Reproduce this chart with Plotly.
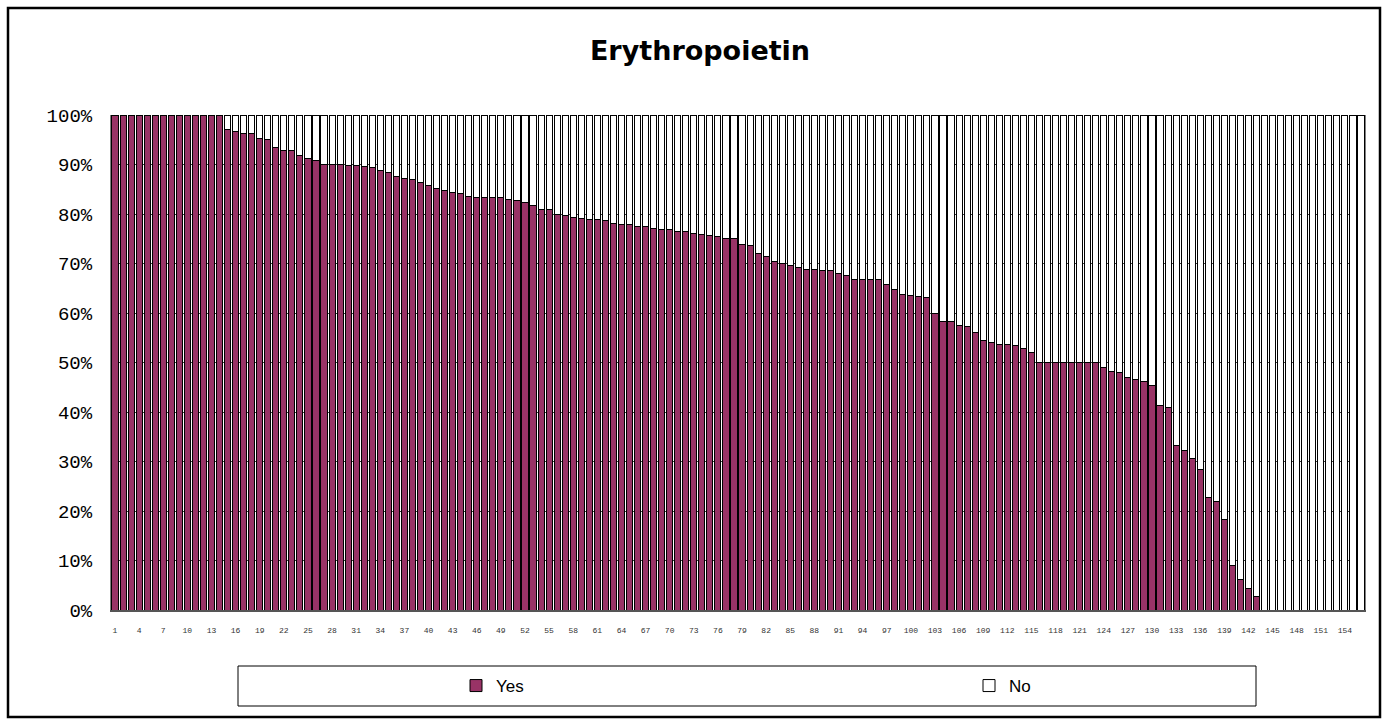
import plotly.graph_objects as go

# Share of "Yes" answers per respondent (percent), sorted descending
categories = list(range(1, 157))
yes_pct = (
    [100.0] * 14
    + [97.0, 96.6, 96.3, 96.2, 95.2, 95.1, 93.4, 92.9, 92.9, 91.8,
       91.3, 90.9, 90.1, 90.1, 90.0, 89.8, 89.7, 89.6, 89.4, 88.7,
       88.4, 87.5, 87.2, 87.0, 86.4, 85.8, 85.1, 84.8, 84.3, 84.2,
       83.6, 83.4, 83.4, 83.4, 83.4, 83.0, 82.8, 82.4, 81.7, 81.0,
       81.0, 80.0, 79.6, 79.3, 79.1, 78.9, 78.8, 78.6, 78.1, 77.9,
       77.8, 77.5, 77.5, 77.0, 76.9, 76.9, 76.5, 76.4, 76.0, 75.8,
       75.7, 75.5, 75.0, 75.0, 73.9, 73.7, 72.1, 71.5, 70.5, 70.0,
       69.5, 69.2, 68.7, 68.7, 68.6, 68.6, 68.0, 67.5, 66.7, 66.7,
       66.7, 66.7, 65.7, 64.8, 63.8, 63.6, 63.3, 63.1, 60.0, 58.3,
       58.2, 57.4, 57.3, 56.1, 54.5, 54.1, 53.7, 53.7, 53.4, 52.8,
       52.1, 50.0, 50.0, 50.0, 50.0, 50.0, 50.0, 50.0, 50.0, 48.9,
       48.1, 47.9, 46.9, 46.6, 46.1, 45.3, 41.3, 41.0, 33.2, 32.3,
       30.6, 28.4, 22.8, 22.0, 18.2, 8.9, 6.1, 4.3, 2.7]
    + [0.0] * 13
)
no_pct = [round(100.0 - v, 1) for v in yes_pct]

x_tickvals = list(range(1, 157, 3))
y_tickvals = list(range(0, 101, 10))

W, H = 1383, 719
L, R, T, B = 111, 18, 115, 109
PW, PH = W - L - R, H - T - B


def px_x(px):
    return (px - L) / PW


def px_y(py):
    return (H - B - py) / PH


fig = go.Figure()
fig.add_trace(go.Bar(
    x=categories, y=yes_pct, name="Yes", legend="legend",
    marker=dict(color="#993366", line=dict(color="black", width=1)),
))
fig.add_trace(go.Bar(
    x=categories, y=no_pct, name="No", legend="legend2",
    marker=dict(color="white", line=dict(color="black", width=1)),
))

legend_font = dict(family="Liberation Sans Narrow, Liberation Sans", size=17, color="black")
legend_common = dict(
    orientation="h", xanchor="left",
    y=px_y(686), yanchor="middle",
    itemwidth=30, font=legend_font,
    bgcolor="rgba(0,0,0,0)", traceorder="normal",
)

fig.update_layout(
    width=W, height=H,
    margin=dict(l=L, r=R, t=T, b=B),
    barmode="stack", bargap=0.24,
    paper_bgcolor="white", plot_bgcolor="white",
    title=dict(
        text="<b>Erythropoietin</b>",
        font=dict(family="DejaVu Sans", size=27, color="black"),
        x=700 / W, xanchor="center", xref="container",
        y=1 - 51 / H, yanchor="middle", yref="container",
    ),
    legend=dict(x=px_x(456), **legend_common),
    legend2=dict(x=px_x(969), **legend_common),
    showlegend=True,
)

fig.update_xaxes(
    range=[0.5, 156.5],
    tickmode="array", tickvals=x_tickvals,
    ticktext=[str(v) for v in x_tickvals],
    tickangle=0,
    tickfont=dict(family="Liberation Mono", size=8, color="#333333"),
    ticks="", ticklabelstandoff=11,
    showgrid=False, zeroline=False,
    showline=True, linecolor="#555555", linewidth=2, mirror=False,
)
fig.update_yaxes(
    range=[0, 100],
    tickmode="array", tickvals=y_tickvals,
    ticktext=[f"{v}%" for v in y_tickvals],
    tickfont=dict(family="Liberation Mono", size=19, color="black"),
    ticks="", ticklabelstandoff=14,
    showgrid=True, gridcolor="#3a3a3a", gridwidth=1,
    zeroline=False,
    showline=True, linecolor="#808080", linewidth=1, mirror=True,
)

# outer chart frame and legend box
fig.add_shape(type="rect", xref="paper", yref="paper",
              x0=px_x(8), x1=px_x(1380), y0=px_y(717), y1=px_y(8),
              line=dict(color="black", width=2.5), fillcolor="rgba(0,0,0,0)",
              layer="above")
fig.add_shape(type="rect", xref="paper", yref="paper",
              x0=px_x(238), x1=px_x(1256), y0=px_y(706), y1=px_y(666),
              line=dict(color="black", width=1), fillcolor="rgba(0,0,0,0)",
              layer="below")

fig.write_html("out.html")
